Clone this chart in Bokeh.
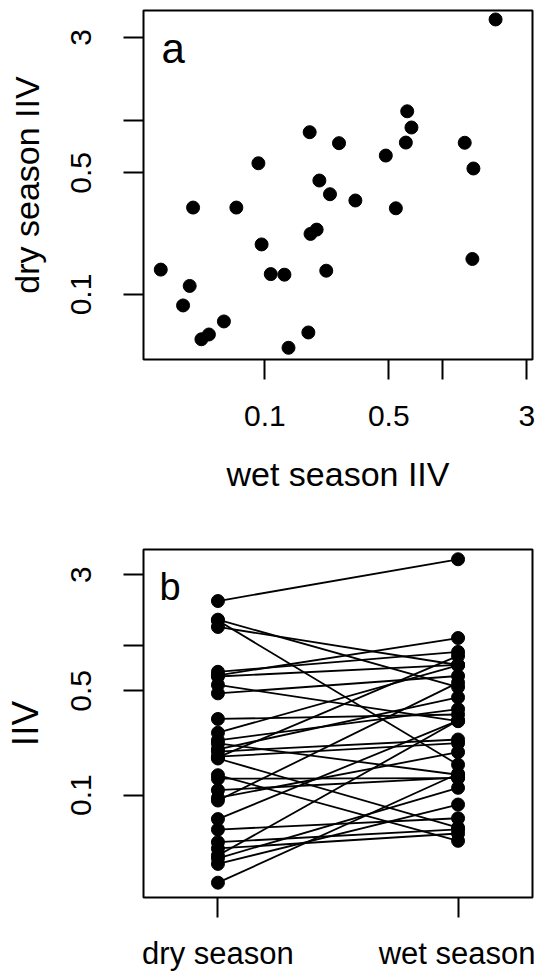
from bokeh.plotting import figure
from bokeh.models import FixedTicker, Range1d, Label, ColumnDataSource
from bokeh.layouts import column
from bokeh.embed import file_html
from bokeh.resources import INLINE

# ---- data ----
# panel a: horizontal axis values ("wet season IIV") and vertical axis values ("dry season IIV")
iiv_x = [2.00, 0.635, 0.671, 0.179, 0.262, 0.624, 1.34, 0.481, 0.092, 1.50,
         0.203, 0.233, 0.324, 0.0394, 0.0691, 0.548, 0.196, 0.181, 0.0959, 1.48,
         0.0259, 0.108, 0.129, 0.222, 0.0377, 0.0346, 0.0588, 0.0484, 0.0439, 0.176,
         0.136]
iiv_y = [3.81, 1.13, 0.912, 0.857, 0.741, 0.747, 0.745, 0.629, 0.568, 0.530,
         0.452, 0.377, 0.347, 0.316, 0.316, 0.313, 0.236, 0.223, 0.194, 0.160,
         0.139, 0.131, 0.130, 0.137, 0.112, 0.0865, 0.070, 0.0589, 0.0553, 0.0605,
         0.0494]
tick_values = [0.1, 0.5, 1, 3]
tick_labels = ["0.1", "0.5", "", "3"]
season_labels = ["dry season", "wet season"]
season_positions = [1, 2]

FONT = "Liberation Sans"


def style_axis(ax, label_size="30px"):
    ax.axis_line_color = None
    ax.major_tick_line_color = "black"
    ax.major_tick_line_width = 2
    ax.major_tick_out = 20
    ax.major_tick_in = 0
    ax.minor_tick_line_color = None
    ax.major_label_text_font = FONT
    ax.major_label_text_font_size = label_size
    ax.major_label_text_color = "black"
    ax.axis_label_text_font = FONT
    ax.axis_label_text_font_style = "normal"
    ax.axis_label_text_color = "black"


def log_ticks(ax):
    ax.ticker = FixedTicker(ticks=tick_values, minor_ticks=[])
    ax.major_label_overrides = {v: s for v, s in zip(tick_values, tick_labels)}


# ---- panel a ----
pa = figure(width=535, height=528, x_axis_type="log", y_axis_type="log",
            x_range=Range1d(0.0207, 3.23), y_range=Range1d(0.0423, 4.29),
            output_backend="svg", toolbar_location=None,
            min_border_left=143, min_border_right=3, min_border_top=10,
            min_border_bottom=169)
pa.grid.visible = False
pa.outline_line_color = "black"
pa.outline_line_width = 2
pa.background_fill_color = "white"
pa.border_fill_color = "white"

src_a = ColumnDataSource(dict(x=iiv_x, y=iiv_y))
pa.scatter("x", "y", source=src_a, size=13, fill_color="black",
           line_color="black", line_width=1)

style_axis(pa.xaxis[0])
style_axis(pa.yaxis[0])
log_ticks(pa.xaxis[0])
log_ticks(pa.yaxis[0])
pa.xaxis.major_label_standoff = 26
pa.yaxis.major_label_standoff = 32
pa.yaxis.major_label_orientation = "vertical"
pa.xaxis.axis_label = "wet season IIV"
pa.yaxis.axis_label = "dry season IIV"
pa.xaxis.axis_label_text_font_size = "34px"
pa.yaxis.axis_label_text_font_size = "34px"
pa.xaxis.axis_label_standoff = 26
pa.yaxis.axis_label_standoff = 23

pa.add_layout(Label(x=18, y=311, x_units="screen", y_units="screen", text="a",
                    text_font=FONT, text_font_size="42px", text_color="black",
                    text_align="left", text_baseline="alphabetic"))

# ---- panel b ----
pb = figure(width=535, height=445, y_axis_type="log",
            x_range=Range1d(0.69, 2.31), y_range=Range1d(0.0206, 4.43),
            output_backend="svg", toolbar_location=None,
            min_border_left=143, min_border_right=3, min_border_top=21,
            min_border_bottom=74)
pb.grid.visible = False
pb.outline_line_color = "black"
pb.outline_line_width = 2
pb.background_fill_color = "white"
pb.border_fill_color = "white"

n = len(iiv_x)
src_b = ColumnDataSource(dict(
    x0=[season_positions[0]] * n, y0=iiv_x,
    x1=[season_positions[1]] * n, y1=iiv_y))
pb.segment("x0", "y0", "x1", "y1", source=src_b, line_color="black", line_width=1.8)
pb.scatter("x0", "y0", source=src_b, size=13, fill_color="black",
           line_color="black", line_width=1)
pb.scatter("x1", "y1", source=src_b, size=13, fill_color="black",
           line_color="black", line_width=1)

style_axis(pb.xaxis[0], label_size="31px")
style_axis(pb.yaxis[0])
log_ticks(pb.yaxis[0])
pb.xaxis.ticker = FixedTicker(ticks=season_positions, minor_ticks=[])
pb.xaxis.major_label_overrides = {p: s for p, s in zip(season_positions, season_labels)}
pb.xaxis.major_label_standoff = 18
pb.yaxis.major_label_standoff = 32
pb.yaxis.major_label_orientation = "vertical"
pb.yaxis.axis_label = "IIV"
pb.yaxis.axis_label_text_font_size = "37px"
pb.yaxis.axis_label_standoff = 23

pb.add_layout(Label(x=16, y=311, x_units="screen", y_units="screen", text="b",
                    text_font=FONT, text_font_size="38px", text_color="black",
                    text_align="left", text_baseline="alphabetic"))

layout = column(pa, pb)
open("out.html", "w").write(file_html(layout, INLINE))
